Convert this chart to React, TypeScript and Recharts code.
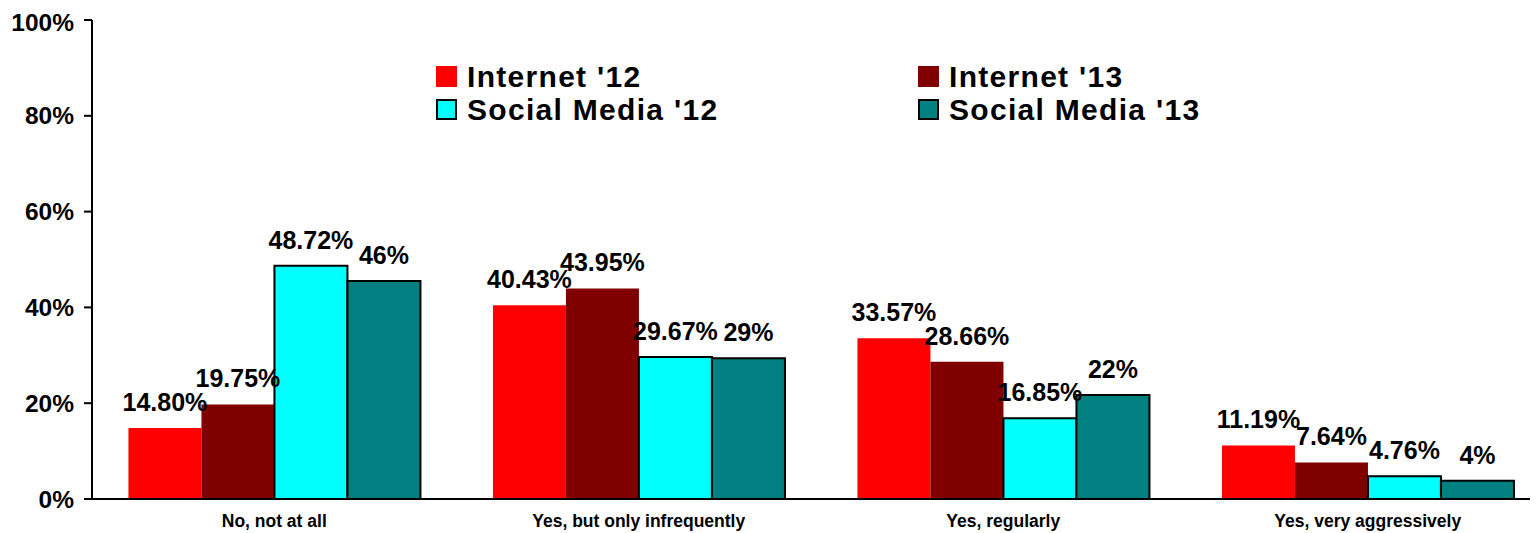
import {BarChart, Bar, XAxis, YAxis, LabelList, Legend} from 'recharts';

const categories = ['No, not at all', 'Yes, but only infrequently', 'Yes, regularly', 'Yes, very aggressively'];

const internet12 = [14.8, 40.43, 33.57, 11.19];
const internet13 = [19.75, 43.95, 28.66, 7.64];
const social12 = [48.72, 29.67, 16.85, 4.76];
const social13 = [45.5, 29.4, 21.7, 3.8];

const internet12Labels = ['14.80%', '40.43%', '33.57%', '11.19%'];
const internet13Labels = ['19.75%', '43.95%', '28.66%', '7.64%'];
const social12Labels = ['48.72%', '29.67%', '16.85%', '4.76%'];
const social13Labels = ['46%', '29%', '22%', '4%'];

const yTicks = [0, 20, 40, 60, 80, 100];
const boundaryTicks = [0, 1, 2, 3, 4];

const series = [
	{key: 'i12', name: "Internet '12", color: '#FF0000', stroke: 'none', labels: internet12Labels},
	{key: 'i13', name: "Internet '13", color: '#800000', stroke: 'none', labels: internet13Labels},
	{key: 's12', name: "Social Media '12", color: '#00FFFF', stroke: '#000', labels: social12Labels},
	{key: 's13', name: "Social Media '13", color: '#008080', stroke: '#000', labels: social13Labels},
];

const data = categories.map((name, i) => ({
	name,
	i12: internet12[i],
	i13: internet13[i],
	s12: social12[i],
	s13: social13[i],
}));

const font = 'Liberation Sans, Arial, sans-serif';

function LegendBox() {
	return (
		<div
			style={{
				display: 'grid',
				gridTemplateColumns: '482px 350px',
				rowGap: 0,
				fontFamily: font,
				fontWeight: 'bold',
				fontSize: 30,
				letterSpacing: 1.3,
				lineHeight: '33px',
				color: '#000',
				textAlign: 'left',
			}}
		>
			{series.map(s => (
				<div key={s.key} style={{display: 'flex', alignItems: 'center', height: 33}}>
					<span
						style={{
							display: 'inline-block',
							width: 21,
							height: 21,
							background: s.color,
							boxSizing: 'border-box',
							border: s.stroke === 'none' ? 'none' : '2px solid #000',
							marginRight: 10,
						}}
					/>
					{s.name}
				</div>
			))}
		</div>
	);
}

export default function App() {
	return (
		<div style={{width: 1530, height: 525, overflow: 'hidden'}}>
			<BarChart
				width={1542}
				height={525}
				data={data}
				margin={{top: 12, right: 0, left: 0, bottom: 0}}
				barCategoryGap="10%"
				barGap={0}
			>
				<XAxis
					dataKey="name"
					height={34}
					tickLine={false}
					axisLine={{stroke: '#000', strokeWidth: 2}}
					tick={{fill: '#000', fontSize: 17.5, fontWeight: 'bold', fontFamily: font}}
					tickMargin={10}
				/>
				<XAxis
					xAxisId="bounds"
					type="number"
					domain={[0, 4]}
					ticks={boundaryTicks}
					axisLine={false}
					tick={false}
					tickLine={{stroke: '#000', strokeWidth: 2}}
					tickSize={6}
					height={0}
				/>
				<YAxis
					width={84}
					domain={[0, 100]}
					ticks={yTicks}
					tickFormatter={(v: number) => `${v}%`}
					axisLine={{stroke: '#000', strokeWidth: 2}}
					tickLine={{stroke: '#000', strokeWidth: 2}}
					tickSize={8}
					tickMargin={10}
					tick={{fill: '#000', fontSize: 24.5, fontWeight: 'bold', fontFamily: font}}
				/>
				<Legend
					verticalAlign="middle"
					align="center"
					layout="horizontal"
					content={() => <LegendBox />}
					wrapperStyle={{top: 52, left: 428, width: 850, bottom: 'auto', right: 'auto'}}
				/>
				{series.map(s => (
					<Bar
						key={s.key}
						dataKey={s.key}
						name={s.name}
						fill={s.color}
						stroke={s.stroke}
						strokeWidth={2}
						isAnimationActive={false}
					>
						<LabelList
							dataKey={s.key}
							content={(props: any) => {
								const {x, y, width, index} = props;
								return (
									<text
										x={x + width / 2}
										y={y - 17}
										textAnchor="middle"
										fill="#000"
										fontSize={25}
										fontWeight="bold"
										fontFamily={font}
									>
										{s.labels[index]}
									</text>
								);
							}}
						/>
					</Bar>
				))}
			</BarChart>
		</div>
	);
}
